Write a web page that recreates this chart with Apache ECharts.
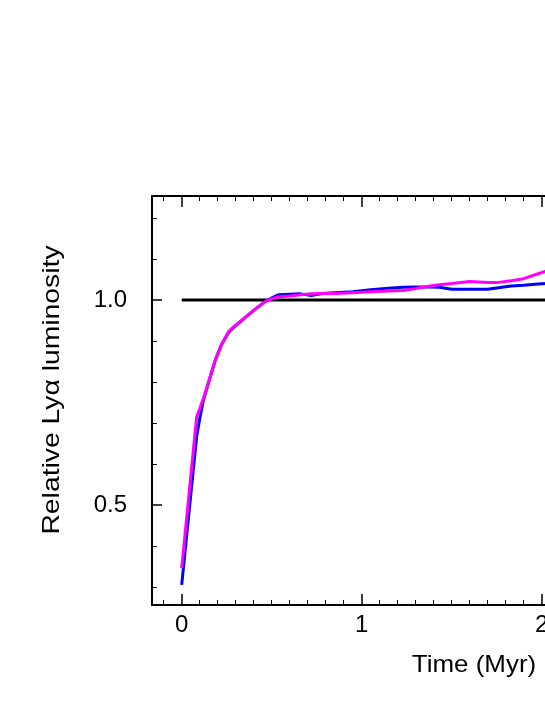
<!DOCTYPE html>
<html>
<head>
<meta charset="utf-8">
<script src="https://cdn.jsdelivr.net/npm/echarts@6/dist/echarts.min.js"></script>
<style>
  html, body { margin: 0; padding: 0; overflow: hidden; background: #fff; }
  #chart { width: 900px; height: 705px; }
</style>
</head>
<body>
<div id="chart"></div>
<script>
// time in Myr
var time = [0, 0.04, 0.083, 0.1, 0.12, 0.15, 0.186, 0.22, 0.26, 0.29, 0.325, 0.36, 0.39, 0.43, 0.464, 0.5, 0.54, 0.6, 0.66, 0.72, 0.78, 0.85, 0.95, 1.05, 1.15, 1.23, 1.3, 1.36, 1.43, 1.5, 1.6, 1.7, 1.76, 1.83, 1.9, 1.98, 2.05, 2.12]
var blueLum = [0.305, 0.479, 0.667, 0.71, 0.755, 0.80, 0.852, 0.89, 0.921, 0.934, 0.947, 0.96, 0.971, 0.985, 0.996, 1.005, 1.013, 1.014, 1.015, 1.011, 1.016, 1.018, 1.02, 1.025, 1.029, 1.031, 1.032, 1.032, 1.031, 1.026, 1.026, 1.026, 1.03, 1.034, 1.036, 1.039, 1.041, 1.042]
var magentaLum = [0.346, 0.524, 0.715, 0.735, 0.76, 0.80, 0.854, 0.89, 0.923, 0.935, 0.947, 0.96, 0.971, 0.985, 0.996, 1.003, 1.008, 1.010, 1.013, 1.015, 1.016, 1.016, 1.018, 1.02, 1.022, 1.023, 1.028, 1.033, 1.037, 1.04, 1.045, 1.043, 1.043, 1.047, 1.052, 1.064, 1.074, 1.085]
var refTime = [0, 3.4]
var refLum = [1.0, 1.0]

var xMajor = [0, 1, 2, 3]
var xMinor = [-0.1, 0.1, 0.2, 0.3, 0.4, 0.5, 0.6, 0.7, 0.8, 0.9, 1.1, 1.2, 1.3, 1.4, 1.5, 1.6, 1.7, 1.8, 1.9, 2.1, 2.2, 2.3, 2.4, 2.5, 2.6, 2.7, 2.8, 2.9, 3.1, 3.2, 3.3, 3.4]
var yMajor = [0.5, 1.0]
var yMinor = [0.3, 0.4, 0.6, 0.7, 0.8, 0.9, 1.1, 1.2]

var X_MIN = -0.165, X_MAX = 3.4128
var Y_MIN = 0.2561, Y_MAX = 1.2537
var FONT = '"Liberation Sans", Arial, sans-serif'

function pairs(xs, ys) {
  return xs.map(function(x, i) { return [x, ys[i]] })
}

function xAxisDef(pos, ticks, len, width, labels) {
  return {
    type: 'value', position: pos, min: X_MIN, max: X_MAX,
    axisLine: { show: true, onZero: false, lineStyle: { color: '#000', width: 2 } },
    axisTick: { show: true, inside: true, length: len, customValues: ticks, lineStyle: { color: '#000', width: width } },
    axisLabel: labels ? { show: true, customValues: labels, margin: 8, color: '#000', fontSize: 24, fontFamily: FONT } : { show: false },
    splitLine: { show: false }
  }
}

function yAxisDef(pos, ticks, len, width, labels) {
  return {
    type: 'value', position: pos, min: Y_MIN, max: Y_MAX,
    axisLine: { show: true, onZero: false, lineStyle: { color: '#000', width: 2 } },
    axisTick: { show: true, inside: true, length: len, customValues: ticks, lineStyle: { color: '#000', width: width } },
    axisLabel: labels ? {
      show: true, customValues: labels, margin: 25, color: '#000', fontSize: 24, fontFamily: FONT,
      formatter: function(v) { return Number(v).toFixed(1) }
    } : { show: false },
    splitLine: { show: false }
  }
}

var chart = echarts.init(document.getElementById('chart'))
chart.setOption({
  animation: false,
  backgroundColor: '#fff',
  grid: { left: 152, top: 196, width: 644, height: 409, containLabel: false },
  xAxis: [
    xAxisDef('bottom', xMajor, 11, 1.5, xMajor),
    xAxisDef('bottom', xMinor, 5, 1, null),
    xAxisDef('top', xMajor, 11, 1.5, null),
    xAxisDef('top', xMinor, 5, 1, null)
  ],
  yAxis: [
    yAxisDef('left', yMajor, 10, 1.5, yMajor),
    yAxisDef('left', yMinor, 5, 1, null),
    yAxisDef('right', yMajor, 10, 1.5, null)
  ],
  series: [
    {
      name: 'reference', type: 'line', showSymbol: false, silent: true,
      data: pairs(refTime, refLum),
      lineStyle: { color: '#000', width: 3 }
    },
    {
      name: 'blue', type: 'line', showSymbol: false,
      data: pairs(time, blueLum),
      lineStyle: { color: '#0000ff', width: 3 }
    },
    {
      name: 'magenta', type: 'line', showSymbol: false,
      data: pairs(time, magentaLum),
      lineStyle: { color: '#ff00ff', width: 3 }
    }
  ],
  graphic: [
    {
      type: 'text', x: 474, y: 665, scaleX: 1.08,
      style: { text: 'Time (Myr)', fill: '#000', font: '24px ' + FONT, textAlign: 'center', textVerticalAlign: 'middle' }
    },
    {
      type: 'text', x: 52, y: 390, rotation: Math.PI / 2, scaleX: 1.18,
      style: { text: 'Relative Lyα luminosity', fill: '#000', font: '24px ' + FONT, textAlign: 'center', textVerticalAlign: 'middle' }
    }
  ]
})
</script>
</body>
</html>
